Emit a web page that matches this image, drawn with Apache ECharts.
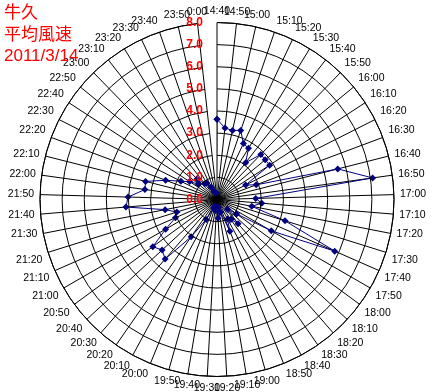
<!DOCTYPE html>
<html><head><meta charset="utf-8">
<script src="https://cdn.jsdelivr.net/npm/echarts@6/dist/echarts.min.js"></script>
<style>html,body{margin:0;padding:0;background:#fff}#c{width:435px;height:392px}</style>
</head><body><div id="c"></div>
<script>
const times = ['14:40','14:50','15:00','15:10','15:20','15:30','15:40','15:50','16:00','16:10',
  '16:20','16:30','16:40','16:50','17:00','17:10','17:20','17:30','17:40','17:50',
  '18:00','18:10','18:20','18:30','18:40','18:50','19:00','19:10','19:20','19:30',
  '19:40','19:50','20:00','20:10','20:20','20:30','20:40','20:50','21:00','21:10',
  '21:20','21:30','21:40','21:50','22:00','22:10','22:20','22:30','22:40','22:50',
  '23:00','23:10','23:20','23:30','23:40','23:50','0:00'];
const speeds = [3.63,3.25,3.2,3.3,2.8,2.72,2.11,2.84,2.82,2.84,
  1.45,1.89,5.63,7.1,1.75,2.03,1.6,3.22,5.81,2.83,
  1.1,0.65,1.45,1.1,1.0,1.55,0.6,0.35,0.85,0.4,
  0.5,0.3,0.4,1.03,2.05,3.57,3.37,3.6,2.68,2.05,
  1.9,2.39,4.13,4.02,3.29,3.33,2.48,1.83,1.48,1.09,
  1.3,0.9,0.88,0.63,0.4,0.3,0.3];
const radiusTicks = [0,1,2,3,4,5,6,7,8];
const titleLines = ['牛久','平均風速','2011/3/14'];

const pts = speeds.map((v,i)=>[v,i]);
pts.push([speeds[0],0]);

const chart = echarts.init(document.getElementById('c'));
chart.setOption({
  animation:false,
  backgroundColor:'#fff',
  title:{text:titleLines.join('\n'),left:4,top:3,padding:0,
    textStyle:{color:'#ff0000',fontSize:17,fontWeight:'normal',lineHeight:21.5,
      fontFamily:"'Liberation Sans','Noto Sans CJK JP',sans-serif"}},
  polar:{center:[217,199.5],radius:177},
  angleAxis:{type:'category',data:times,startAngle:90,clockwise:true,boundaryGap:false,
    axisLine:{lineStyle:{color:'#000',width:1}},
    axisTick:{show:false},
    axisLabel:{interval:0,color:'#000',fontSize:10.5,margin:6,fontFamily:"'Liberation Sans',sans-serif"},
    splitLine:{show:true,lineStyle:{color:'#000',width:1}},
    z:1},
  radiusAxis:{type:'value',min:radiusTicks[0],max:radiusTicks[radiusTicks.length-1],interval:1,
    axisLine:{show:false},axisTick:{show:false},
    axisLabel:{color:'#ff0000',fontWeight:'bold',fontSize:12,margin:14,
      fontFamily:"'Liberation Sans',sans-serif",formatter:v=>v.toFixed(1)},
    splitLine:{show:true,lineStyle:{color:'#000',width:1}},
    z:5},
  series:[{type:'line',coordinateSystem:'polar',data:pts,symbol:'diamond',symbolSize:7,
    lineStyle:{color:'#000080',width:1},itemStyle:{color:'#000080'},z:3}]
});
</script></body></html>
